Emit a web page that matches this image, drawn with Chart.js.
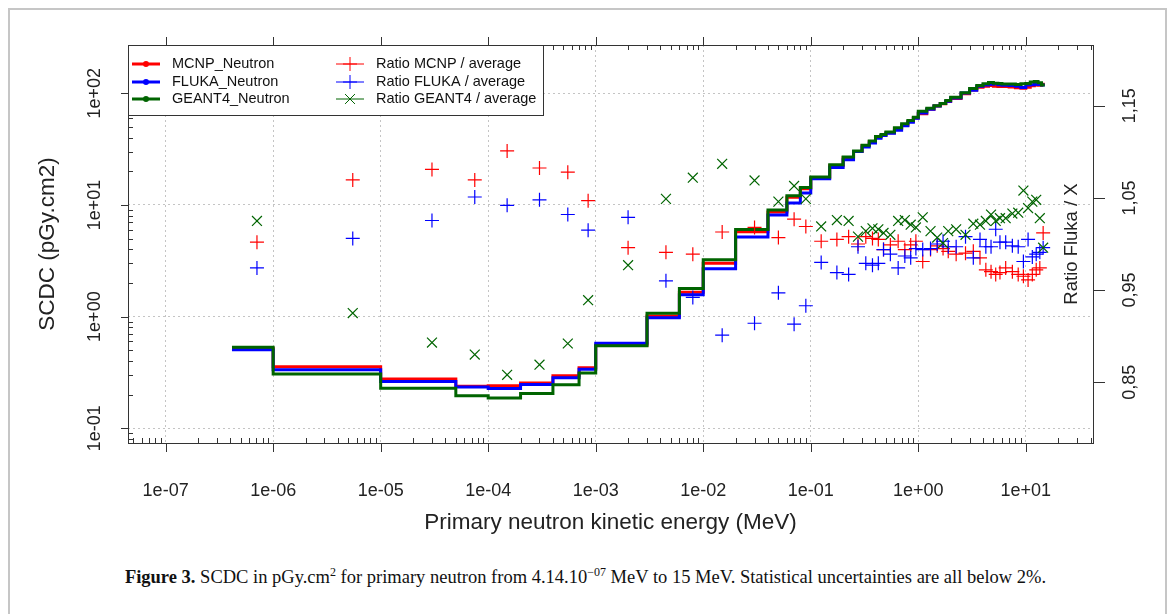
<!DOCTYPE html>
<html>
<head>
<meta charset="utf-8">
<script src="https://cdn.jsdelivr.net/npm/chart.js@4.4.1/dist/chart.umd.min.js"></script>
<style>
  body { margin: 0; background: #fff; width: 1171px; height: 614px; overflow: hidden; position: relative; }
  #frame { position: absolute; left: 8px; top: 8px; width: 1155px; height: 640px; border: 2px solid #c6c6c6; border-bottom: none; }
  #wrap { position: absolute; left: 0; top: 0; width: 1171px; height: 560px; }
  #caption { position: absolute; left: 0; top: 566px; width: 1171px; text-align: center;
             font-family: 'Liberation Serif', 'Times New Roman', serif; font-size: 18.5px; line-height: 22px; color: #111; }
  #caption sup { font-size: 12px; line-height: 0; }
</style>
</head>
<body>
<div id="frame"></div>
<div id="wrap"><canvas id="scdcChart"></canvas></div>
<div id="caption"><b>Figure 3.</b> SCDC in pGy.cm<sup>2</sup> for primary neutron from 4.14.10<sup>&minus;07</sup> MeV to 15 MeV. Statistical uncertainties are all below 2%.</div>

<script>
// Bin edges of the energy groups (MeV)
const binEdges = [4.14e-7, 1e-6, 1e-5, 5e-5, 1e-4, 2e-4, 4e-4, 7e-4, 1e-3, 3e-3, 6e-3, 1e-2, 2e-2, 4e-2, 6e-2, 8e-2,
  0.1, 0.15, 0.2, 0.25, 0.3, 0.35, 0.4, 0.45, 0.5, 0.6, 0.7, 0.8, 0.9, 1, 1.2, 1.4, 1.6, 1.8, 2, 2.5, 3, 3.5, 4,
  4.5, 5, 5.5, 6, 7, 8, 9, 10, 11, 12, 13, 14, 15];

// SCDC per bin (pGy.cm2)
const mcnpDose = [0.519, 0.355, 0.276, 0.238, 0.240, 0.255, 0.296, 0.349, 0.558, 1.011, 1.652, 3.01, 5.75, 8.66, 11.7, 13.96,
  17.55, 22.41, 26.51, 30.2, 34.07, 37.02, 40.70, 41.95, 44.46, 48.14, 51.69, 55.94, 60.18, 65.73, 72.07, 76.85, 80.6, 84.32,
  90.0, 99.0, 107.1, 113.3, 115.7, 117.4, 116.0, 115.3, 114.9, 114.0, 112.2, 111.0, 113.4, 117.0, 118.6, 117.9, 120.4];
const flukaDose = [0.505, 0.334, 0.262, 0.234, 0.227, 0.247, 0.284, 0.338, 0.576, 0.979, 1.573, 2.68, 5.16, 8.14, 10.4, 12.78,
  17.15, 21.61, 25.43, 30.11, 33.09, 35.95, 39.65, 41.95, 44.01, 46.75, 51.32, 55.16, 59.7, 66.6, 72.14, 77.0, 81.24, 84.75,
  90.73, 100.8, 106.4, 115.6, 118.6, 120.6, 121.9, 119.2, 118.2, 117.3, 115.7, 112.8, 118.6, 119.3, 120.7, 119.9, 118.5];
const geant4Dose = [0.531, 0.307, 0.228, 0.196, 0.187, 0.205, 0.245, 0.313, 0.547, 1.070, 1.790, 3.23, 6.04, 9.0, 12.1, 14.37,
  17.83, 22.88, 26.96, 30.44, 34.27, 37.43, 41.15, 42.71, 44.95, 49.2, 53.35, 57.18, 61.08, 68.94, 73.52, 77.54, 81.08, 86.19,
  92.46, 101.0, 110.4, 117.4, 122.0, 124.9, 123.0, 122.3, 121.3, 121.4, 119.9, 121.7, 122.6, 126.6, 127.9, 124.4, 118.5];

// Ratio to the average, plotted at the bin middle energies (MeV)
const ratioEnergy = [7.07e-7, 5.5e-6, 3e-5, 7.5e-5, 1.5e-4, 3e-4, 5.5e-4, 8.5e-4, 2e-3, 4.5e-3, 8e-3, 1.5e-2, 3e-2, 5e-2, 7e-2, 9e-2,
  0.125, 0.175, 0.225, 0.275, 0.325, 0.375, 0.425, 0.475, 0.55, 0.65, 0.75, 0.85, 0.95, 1.1, 1.3, 1.5, 1.7, 1.9, 2.25, 2.75,
  3.25, 3.75, 4.25, 4.75, 5.25, 5.75, 6.5, 7.5, 8.5, 9.5, 10.5, 11.5, 12.5, 13.5, 14.5];
const ratioMcnp = [1.002, 1.0695, 1.081, 1.0695, 1.101, 1.0825, 1.078, 1.047, 0.996, 0.991, 0.989, 1.013, 1.018, 1.007, 1.027, 1.019,
  1.003, 1.005, 1.008, 1.000, 1.008, 1.006, 1.005, 0.994, 0.999, 1.003, 0.994, 0.999, 1.003, 0.981, 0.994, 0.998, 0.995, 0.992,
  0.989, 0.990, 0.992, 0.985, 0.972, 0.970, 0.967, 0.969, 0.974, 0.970, 0.967, 0.965, 0.961, 0.967, 0.972, 0.974, 1.012];
const ratioFluka = [0.974, 1.006, 1.0255, 1.051, 1.042, 1.048, 1.032, 1.015, 1.029, 0.960, 0.942, 0.901, 0.914, 0.947, 0.913, 0.933,
  0.980, 0.969, 0.967, 0.997, 0.979, 0.977, 0.979, 0.994, 0.989, 0.974, 0.987, 0.985, 0.995, 0.994, 0.995, 1.000, 1.003, 0.997,
  0.997, 1.008, 0.985, 1.005, 0.997, 0.997, 1.016, 1.002, 1.002, 0.998, 0.997, 0.981, 1.005, 0.986, 0.989, 0.991, 0.996];
const ratioGeant4 = [1.025, 0.925, 0.893, 0.880, 0.858, 0.869, 0.892, 0.939, 0.977, 1.049, 1.072, 1.087, 1.069, 1.046, 1.063, 1.049,
  1.019, 1.026, 1.025, 1.008, 1.014, 1.017, 1.016, 1.012, 1.010, 1.025, 1.026, 1.021, 1.018, 1.029, 1.014, 1.007, 1.001, 1.014,
  1.016, 1.010, 1.022, 1.021, 1.025, 1.032, 1.025, 1.028, 1.028, 1.033, 1.034, 1.058, 1.039, 1.046, 1.048, 1.028, 0.996];

// Tick labels
const energyTicks = [1e-7, 1e-6, 1e-5, 1e-4, 1e-3, 1e-2, 1e-1, 1, 10];
const doseTicks = [0.1, 1, 10, 100];
const ratioTicks = [0.85, 0.95, 1.05, 1.15];

const FONT = "'Liberation Sans', Arial, sans-serif";
const RED = '#ff0000', BLUE = '#0000ff', GREEN = '#006400';

// R style "1e-07" labels
function sciLabel(v) {
  const e = Math.round(Math.log10(v));
  const s = e < 0 ? '-' : '+';
  return '1e' + s + String(Math.abs(e)).padStart(2, '0');
}

// step line points: each bin value starts at its lower edge, last one closes at the top edge
function stepPoints(values) {
  return binEdges.map((edge, i) => ({ x: edge, y: values[Math.min(i, values.length - 1)] }));
}

function ratioPoints(values) {
  return ratioEnergy.map((e, i) => ({ x: e, y: values[i] }));
}

// Box, R-like tick marks, rotated y labels, legend
const axisDecor = {
  id: 'axisDecor',
  afterDraw(chart) {
    const { ctx, chartArea: a, scales } = chart;
    const x = scales.x, y = scales.y, y2 = scales.y2;
    ctx.save();
    ctx.strokeStyle = '#333';
    ctx.lineWidth = 1;

    // minor / major ticks on x (bottom and top)
    const lo = Math.floor(Math.log10(x.min)), hi = Math.ceil(Math.log10(x.max));
    ctx.beginPath();
    for (let k = lo; k <= hi; k++) {
      for (let m = 2; m <= 9; m++) {
        const v = m * Math.pow(10, k);
        if (v < x.min || v > x.max) continue;
        const px = Math.round(x.getPixelForValue(v)) + 0.5;
        ctx.moveTo(px, a.bottom); ctx.lineTo(px, a.bottom - 5);
        ctx.moveTo(px, a.top); ctx.lineTo(px, a.top + 5);
      }
    }
    x.ticks.forEach(t => {
      const px = Math.round(x.getPixelForValue(t.value)) + 0.5;
      ctx.moveTo(px, a.bottom); ctx.lineTo(px, a.bottom + 9);
      ctx.moveTo(px, a.top); ctx.lineTo(px, a.top - 8);
    });

    // left axis ticks
    const ylo = Math.floor(Math.log10(y.min)), yhi = Math.ceil(Math.log10(y.max));
    for (let k = ylo; k <= yhi; k++) {
      for (let m = 2; m <= 9; m++) {
        const v = m * Math.pow(10, k);
        if (v < y.min || v > y.max) continue;
        const py = Math.round(y.getPixelForValue(v)) + 0.5;
        ctx.moveTo(a.left, py); ctx.lineTo(a.left + 5, py);
      }
    }
    y.ticks.forEach(t => {
      const py = Math.round(y.getPixelForValue(t.value)) + 0.5;
      ctx.moveTo(a.left - 7, py); ctx.lineTo(a.left + 1, py);
    });
    // right axis ticks
    y2.ticks.forEach(t => {
      const py = Math.round(y2.getPixelForValue(t.value)) + 0.5;
      ctx.moveTo(a.right, py); ctx.lineTo(a.right + 12, py);
    });
    ctx.stroke();

    // rotated tick labels
    ctx.fillStyle = '#222';
    ctx.font = '18px ' + FONT;
    ctx.textAlign = 'center';
    ctx.textBaseline = 'middle';
    y.ticks.forEach(t => {
      ctx.save();
      ctx.translate(a.left - 33, y.getPixelForValue(t.value));
      ctx.rotate(-Math.PI / 2);
      ctx.fillText(sciLabel(t.value), 0, 0);
      ctx.restore();
    });
    y2.ticks.forEach(t => {
      ctx.save();
      ctx.translate(a.right + 37, y2.getPixelForValue(t.value));
      ctx.rotate(-Math.PI / 2);
      ctx.fillText(t.value.toFixed(2).replace('.', ','), 0, 0);
      ctx.restore();
    });
    // inner title of the ratio axis
    ctx.save();
    ctx.font = '18.5px ' + FONT;
    ctx.translate(a.right - 21, (a.top + a.bottom) / 2);
    ctx.rotate(-Math.PI / 2);
    ctx.fillText('Ratio Fluka / X', 0, 0);
    ctx.restore();

    // legend
    const lx = a.left, ly = a.top, lw = 415, lh = 70;
    ctx.fillStyle = '#fff';
    ctx.fillRect(lx, ly, lw, lh);
    ctx.strokeStyle = '#333';
    ctx.strokeRect(lx + 0.5, ly + 0.5, lw, lh);
    const rows = [19, 37, 54];
    const left = [['MCNP_Neutron', RED], ['FLUKA_Neutron', BLUE], ['GEANT4_Neutron', GREEN]];
    const right = [['Ratio MCNP / average', RED, 'cross'], ['Ratio FLUKA / average', BLUE, 'cross'], ['Ratio GEANT4 / average', GREEN, 'crossRot']];
    ctx.font = '14.5px ' + FONT;
    ctx.textAlign = 'left';
    left.forEach(([label, col], i) => {
      const yy = ly + rows[i];
      ctx.strokeStyle = col; ctx.lineWidth = 3;
      ctx.beginPath(); ctx.moveTo(lx + 4, yy); ctx.lineTo(lx + 32, yy); ctx.stroke();
      ctx.fillStyle = col;
      ctx.beginPath(); ctx.arc(lx + 18, yy, 3, 0, Math.PI * 2); ctx.fill();
      ctx.fillStyle = '#111';
      ctx.fillText(label, lx + 44, yy);
    });
    right.forEach(([label, col, style], i) => {
      const yy = ly + rows[i];
      ctx.strokeStyle = col; ctx.lineWidth = 1;
      ctx.beginPath(); ctx.moveTo(lx + 208, yy); ctx.lineTo(lx + 236, yy); ctx.stroke();
      Chart.helpers.drawPoint(ctx, { pointStyle: style, radius: 7, borderWidth: 1.2 }, lx + 222, yy);
      ctx.fillStyle = '#111';
      ctx.fillText(label, lx + 248, yy);
    });

    // plot box
    ctx.strokeStyle = '#333'; ctx.lineWidth = 1;
    ctx.strokeRect(a.left + 0.5, a.top + 0.5, a.width, a.height);
    ctx.restore();
  }
};

const dottedGrid = {
  color: '#c4c4c4',
  lineWidth: 1,
  drawTicks: false
};

new Chart(document.getElementById('scdcChart'), {
  type: 'line',
  data: {
    datasets: [
      { label: 'MCNP_Neutron', data: stepPoints(mcnpDose), borderColor: RED, borderWidth: 3, stepped: true, pointRadius: 0, yAxisID: 'y', order: 5 },
      { label: 'FLUKA_Neutron', data: stepPoints(flukaDose), borderColor: BLUE, borderWidth: 3, stepped: true, pointRadius: 0, yAxisID: 'y', order: 4 },
      { label: 'GEANT4_Neutron', data: stepPoints(geant4Dose), borderColor: GREEN, borderWidth: 3, stepped: true, pointRadius: 0, yAxisID: 'y', order: 3 },
      { type: 'scatter', label: 'Ratio MCNP / average', data: ratioPoints(ratioMcnp), borderColor: RED, backgroundColor: RED, pointStyle: 'cross', pointRadius: 7, borderWidth: 1.2, yAxisID: 'y2', order: 2 },
      { type: 'scatter', label: 'Ratio FLUKA / average', data: ratioPoints(ratioFluka), borderColor: BLUE, backgroundColor: BLUE, pointStyle: 'cross', pointRadius: 7, borderWidth: 1.2, yAxisID: 'y2', order: 1 },
      { type: 'scatter', label: 'Ratio GEANT4 / average', data: ratioPoints(ratioGeant4), borderColor: GREEN, backgroundColor: GREEN, pointStyle: 'crossRot', pointRadius: 7, borderWidth: 1.2, yAxisID: 'y2', order: 0 }
    ]
  },
  options: {
    responsive: true,
    maintainAspectRatio: false,
    animation: false,
    layout: { padding: { top: 45, left: 0, right: 0, bottom: 0 } },
    plugins: { legend: { display: false }, tooltip: { enabled: false } },
    scales: {
      x: {
        type: 'logarithmic',
        position: 'bottom',
        min: Math.pow(10, -7.35),
        max: Math.pow(10, 1.625),
        afterBuildTicks: (scale) => { scale.ticks = energyTicks.map(v => ({ value: v })); },
        afterFit: (scale) => { scale.height = 117; },
        ticks: { autoSkip: false, maxRotation: 0, padding: 37, color: '#222', font: { family: FONT, size: 18 }, callback: (v) => sciLabel(v) },
        grid: dottedGrid,
        border: { display: false, dash: [2, 3] },
        title: { display: true, text: 'Primary neutron kinetic energy (MeV)', color: '#222', font: { family: FONT, size: 22.5 }, padding: { top: 0, bottom: 23.5 } }
      },
      y: {
        type: 'logarithmic',
        position: 'left',
        min: Math.pow(10, -1.132),
        max: Math.pow(10, 2.433),
        afterBuildTicks: (scale) => { scale.ticks = doseTicks.map(v => ({ value: v })); },
        afterFit: (scale) => { scale.width = 128; },
        ticks: { display: false },
        grid: dottedGrid,
        border: { display: false, dash: [2, 3] },
        title: { display: true, text: 'SCDC (pGy.cm2)', color: '#222', font: { family: FONT, size: 22.5 }, padding: { top: 34.5, bottom: 0 } }
      },
      y2: {
        type: 'linear',
        position: 'right',
        min: 0.784,
        max: 1.216,
        afterBuildTicks: (scale) => { scale.ticks = ratioTicks.map(v => ({ value: v })); },
        afterFit: (scale) => { scale.width = 78; },
        ticks: { display: false },
        grid: { display: false },
        border: { display: false }
      }
    }
  },
  plugins: [axisDecor]
});
</script>
</body>
</html>
